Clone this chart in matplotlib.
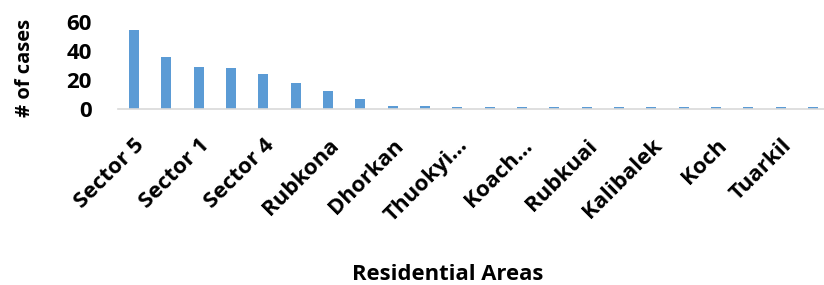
import matplotlib
matplotlib.use("Agg")
import matplotlib.pyplot as plt
import numpy as np

# cases per residential area (22 bars, only every other label is shown in the source)
cases = [54, 36, 29, 28, 24, 18, 12, 7, 2, 2, 1, 1, 1, 1, 1, 1, 1, 1, 1, 1, 1, 1]
shown_labels = ["Sector 5", "Sector 1", "Sector 4", "Rubkona", "Dhorkan", "Thuokyi...",
                "Koach...", "Rubkuai", "Kalibalek", "Koch", "Tuarkil"]
y_ticks = [0, 20, 40, 60]

bar_color = "#5B9BD5"
plt.rcParams['font.family'] = ['Open Sans', 'DejaVu Sans']

fig = plt.figure(figsize=(8.24, 2.85), dpi=100)
ax = fig.add_axes([118 / 824, 1 - 108.7 / 285, 711 / 824, 87 / 285])

x = np.arange(len(cases))
ax.bar(x, cases, width=0.31, color=bar_color)

ax.set_xlim(-0.5, len(cases) - 0.5)
ax.set_ylim(0, 60)
ax.set_yticks(y_ticks)
ax.set_yticklabels([str(v) for v in y_ticks], fontsize=16, fontweight='bold')
ax.tick_params(axis='y', length=0, pad=19)

ax.set_xticks(x[::2])
ax.set_xticklabels(shown_labels, rotation=45, ha='right', rotation_mode='anchor',
                   fontsize=16, fontweight='bold')
ax.tick_params(axis='x', length=0, pad=19)

for side in ['top', 'right', 'left']:
    ax.spines[side].set_visible(False)
ax.spines['bottom'].set_color('#D9D9D9')
ax.spines['bottom'].set_linewidth(1.2)

ax.set_ylabel("# of cases", fontsize=14.5, fontweight='bold')
ax.yaxis.set_label_coords(-0.117, 0.47)
fig.text(448 / 824, 1 - 274 / 285, "Residential Areas", ha='center', va='center',
         fontsize=15.8, fontweight='bold')

fig.savefig("out.png", dpi=100)
